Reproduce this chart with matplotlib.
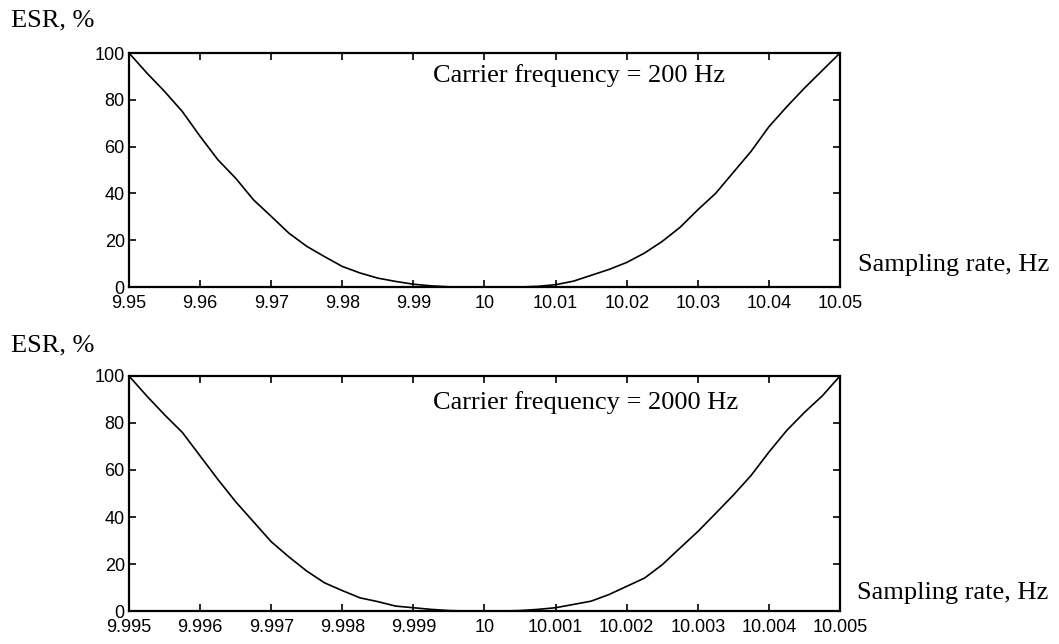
import matplotlib
matplotlib.use("Agg")
import matplotlib.pyplot as plt

# carrier 200 Hz
rate_200 = [9.95, 9.9525, 9.955, 9.9575, 9.96, 9.9625, 9.965, 9.9675, 9.97, 9.9725,
            9.975, 9.9775, 9.98, 9.9825, 9.985, 9.9875, 9.99, 9.9925, 9.995, 9.9975,
            10.0, 10.0025, 10.005, 10.0075, 10.01, 10.0125, 10.015, 10.0175, 10.02, 10.0225,
            10.025, 10.0275, 10.03, 10.0325, 10.035, 10.0375, 10.04, 10.0425, 10.045, 10.0475, 10.05]
esr_200 = [100, 91.5, 83.6, 75, 64.4, 54.4, 46.5, 37.3, 30.2, 23,
           17.4, 13, 8.8, 6, 3.8, 2.4, 1.2, 0.5, 0.1, 0,
           0, 0, 0, 0.3, 1, 2.5, 5, 7.5, 10.5, 14.5,
           19.5, 25.5, 33, 40, 49, 58, 68.5, 77, 85, 92.5, 100]
ticks_200 = [9.95, 9.96, 9.97, 9.98, 9.99, 10.0, 10.01, 10.02, 10.03, 10.04, 10.05]
labels_200 = ["9.95", "9.96", "9.97", "9.98", "9.99", "10", "10.01", "10.02", "10.03", "10.04", "10.05"]

# carrier 2000 Hz
rate_2000 = [9.995, 9.99525, 9.9955, 9.99575, 9.996, 9.99625, 9.9965, 9.99675, 9.997, 9.99725,
             9.9975, 9.99775, 9.998, 9.99825, 9.9985, 9.99875, 9.999, 9.99925, 9.9995, 9.99975,
             10.0, 10.00025, 10.0005, 10.00075, 10.001, 10.00125, 10.0015, 10.00175, 10.002, 10.00225,
             10.0025, 10.00275, 10.003, 10.00325, 10.0035, 10.00375, 10.004, 10.00425, 10.0045, 10.00475, 10.005]
esr_2000 = [100, 91.5, 83.5, 76, 66, 56, 46.5, 38, 29.5, 23,
            17, 12, 8.7, 5.6, 4, 2.1, 1.4, 0.7, 0.2, 0,
            0, 0, 0.2, 0.7, 1.4, 2.8, 4.2, 7, 10.5, 14,
            19.7, 26.8, 33.8, 41.5, 49.3, 57.7, 67.6, 76.8, 84.5, 91.5, 100]
ticks_2000 = [9.995, 9.996, 9.997, 9.998, 9.999, 10.0, 10.001, 10.002, 10.003, 10.004, 10.005]
labels_2000 = ["9.995", "9.996", "9.997", "9.998", "9.999", "10", "10.001", "10.002", "10.003", "10.004", "10.005"]

y_ticks = [0, 20, 40, 60, 80, 100]

serif = "Liberation Serif"
tick_font = "Liberation Sans"

fig = plt.figure(figsize=(10.59, 6.44), dpi=100)
ax1 = fig.add_axes([0.1218, 0.5543, 0.6714, 0.3634])
ax2 = fig.add_axes([0.1218, 0.0512, 0.6714, 0.3650])

panels = [
    (ax1, rate_200, esr_200, ticks_200, labels_200, "Carrier frequency = 200 Hz", 0.902),
    (ax2, rate_2000, esr_2000, ticks_2000, labels_2000, "Carrier frequency = 2000 Hz", 0.889),
]

for ax, x, y, xt, xl, title, ty in panels:
    ax.plot(x, y, color="black", linewidth=1.2)
    ax.set_xlim(xt[0], xt[-1])
    ax.set_ylim(0, 100)
    ax.set_xticks(xt)
    ax.set_xticklabels(xl, fontfamily=tick_font, fontsize=13)
    ax.set_yticks(y_ticks)
    ax.set_yticklabels([str(v) for v in y_ticks], fontfamily=tick_font, fontsize=13)
    ax.tick_params(direction="in", top=True, right=True, length=5, width=1.2)
    ax.tick_params(axis="x", pad=6)
    ax.tick_params(axis="y", pad=3)
    for s in ax.spines.values():
        s.set_linewidth(1.6)
    ax.text(0.4276, ty, title, transform=ax.transAxes, fontfamily=serif, fontsize=19,
            va="center", ha="left")

fig.text(0.010, 0.969, "ESR, %", fontfamily=serif, fontsize=19, va="center")
fig.text(0.010, 0.464, "ESR, %", fontfamily=serif, fontsize=19, va="center")
fig.text(0.810, 0.588, "Sampling rate, Hz", fontfamily=serif, fontsize=19, va="center")
fig.text(0.809, 0.079, "Sampling rate, Hz", fontfamily=serif, fontsize=19, va="center")

fig.savefig("out.png", dpi=100)
